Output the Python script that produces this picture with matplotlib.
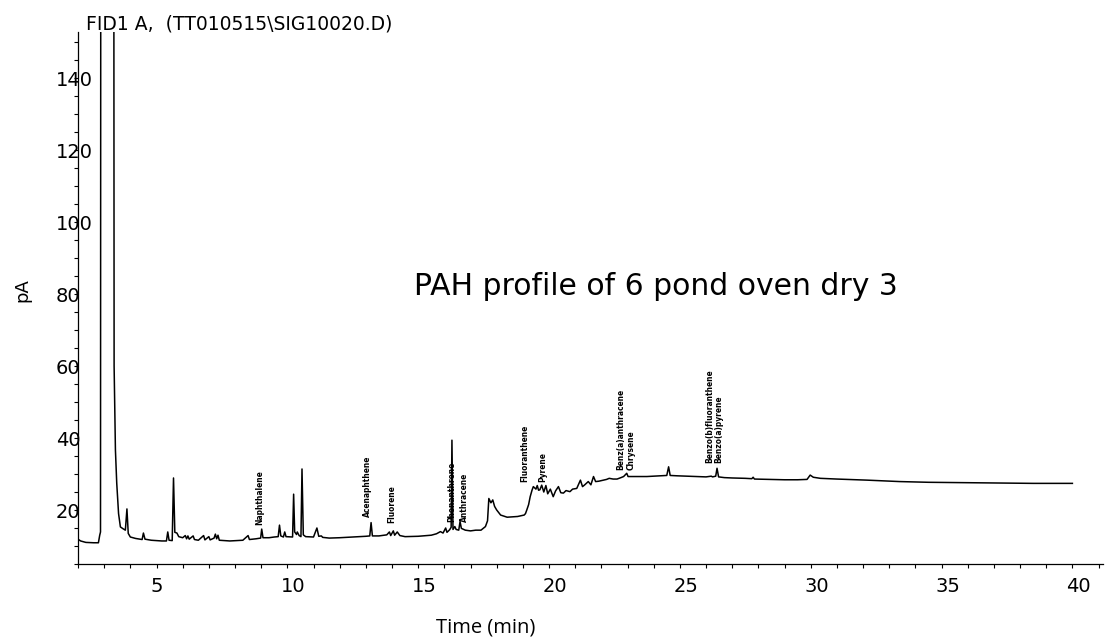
import matplotlib
matplotlib.use("Agg")
import matplotlib.pyplot as plt
from matplotlib.ticker import MultipleLocator, FixedLocator
from matplotlib.transforms import ScaledTranslation
from matplotlib import font_manager as fm

# ---------------- data ----------------
time_min = [2.00, 2.10, 2.30, 2.60, 2.78, 2.83, 2.86, 2.89, 3.34, 3.38, 3.43, 3.48,
            3.55, 3.62, 3.72, 3.81, 3.87, 3.92, 4.00, 4.20, 4.45, 4.50, 4.56, 4.80,
            5.00, 5.20, 5.38, 5.43, 5.48, 5.60, 5.65, 5.70, 5.78, 5.85, 6.00, 6.10,
            6.15, 6.20, 6.25, 6.40, 6.45, 6.60, 6.80, 6.85, 7.00, 7.05, 7.20, 7.25,
            7.30, 7.35, 7.40, 7.80, 8.30, 8.50, 8.55, 8.80, 8.98, 9.02, 9.07, 9.30,
            9.50, 9.65, 9.70, 9.75, 9.85, 9.90, 9.95, 10.20, 10.24, 10.28, 10.35, 10.38,
            10.45, 10.52, 10.56, 10.61, 10.70, 11.00, 11.13, 11.20, 11.30, 11.35, 11.60, 12.00,
            12.50, 13.00, 13.15, 13.20, 13.25, 13.50, 13.80, 13.90, 13.95, 14.05, 14.10, 14.20,
            14.30, 14.50, 15.00, 15.50, 15.70, 15.85, 15.95, 16.05, 16.10, 16.20, 16.26, 16.29,
            16.33, 16.40, 16.45, 16.55, 16.60, 16.65, 16.80, 17.00, 17.20, 17.40, 17.57, 17.65,
            17.70, 17.78, 17.85, 17.92, 18.00, 18.15, 18.40, 18.60, 18.80, 19.05, 19.10, 19.15,
            19.22, 19.28, 19.35, 19.40, 19.50, 19.55, 19.60, 19.65, 19.72, 19.80, 19.88, 19.95,
            20.05, 20.16, 20.25, 20.36, 20.45, 20.55, 20.65, 20.80, 20.90, 21.06, 21.20, 21.28,
            21.35, 21.50, 21.60, 21.70, 21.78, 21.90, 22.07, 22.20, 22.30, 22.45, 22.60, 22.75,
            22.85, 22.97, 23.02, 23.30, 23.74, 24.00, 24.30, 24.50, 24.57, 24.63, 24.90, 25.30,
            25.65, 26.00, 26.20, 26.25, 26.37, 26.42, 26.48, 26.70, 27.00, 27.50, 27.75, 27.80,
            27.85, 28.50, 29.00, 29.50, 29.86, 29.98, 30.10, 30.37, 31.00, 32.15, 33.40, 34.50,
            35.97, 37.00, 38.50, 40.00]
signal_pA = [11.9, 11.4, 11.0, 10.9, 10.9, 13.0, 13.9, 500.0, 500.0, 60.0, 36.7, 27.5,
             19.0, 15.3, 14.8, 14.4, 20.3, 13.5, 12.5, 12.1, 11.8, 13.6, 11.9, 11.6,
             11.5, 11.4, 11.4, 13.9, 11.6, 11.5, 28.9, 13.8, 13.6, 12.6, 12.3, 12.9,
             12.0, 12.8, 11.9, 12.8, 11.8, 11.6, 12.9, 11.7, 12.6, 11.7, 12.2, 13.3,
             12.0, 13.0, 11.6, 11.4, 11.6, 12.9, 11.8, 12.0, 12.2, 14.7, 12.3, 12.3,
             12.5, 12.6, 15.8, 12.8, 12.5, 13.9, 12.6, 12.5, 24.4, 13.9, 13.2, 13.9,
             12.9, 12.6, 31.4, 13.1, 12.6, 12.5, 15.0, 12.7, 12.8, 12.4, 12.2, 12.3,
             12.5, 12.7, 12.8, 16.5, 12.8, 12.8, 13.1, 13.9, 12.9, 14.2, 13.0, 13.9,
             12.9, 12.6, 12.7, 13.0, 13.4, 14.0, 13.6, 15.0, 13.8, 14.5, 15.2, 39.4,
             14.6, 15.4, 14.6, 14.4, 16.8, 14.9, 14.4, 14.2, 14.4, 14.4, 15.4, 17.0,
             23.2, 22.0, 22.8, 21.0, 20.0, 18.6, 18.0, 18.1, 18.2, 18.6, 19.0, 20.0,
             21.5, 23.7, 25.5, 26.5, 25.8, 26.8, 25.5, 25.6, 26.9, 25.0, 26.8, 24.5,
             25.8, 23.7, 25.3, 26.5, 24.8, 24.7, 25.4, 25.1, 25.8, 26.0, 28.3, 26.5,
             26.9, 27.9, 27.0, 29.3, 27.9, 28.0, 28.3, 28.5, 28.8, 28.6, 28.6, 29.0,
             29.3, 30.2, 29.3, 29.3, 29.3, 29.4, 29.5, 29.6, 32.0, 29.6, 29.5, 29.4,
             29.3, 29.2, 29.4, 29.2, 29.4, 31.6, 29.2, 29.0, 28.9, 28.8, 28.7, 29.1,
             28.6, 28.5, 28.4, 28.4, 28.5, 29.7, 29.1, 28.8, 28.6, 28.3, 27.9, 27.7,
             27.6, 27.5, 27.4, 27.4]

x_major_ticks = [5, 10, 15, 20, 25, 30, 35, 40]
y_major_ticks = [20, 40, 60, 80, 100, 120, 140]

peak_names = ["Naphthalene", "Acenaphthene", "Fluorene", "Phenanthrene", "Anthracene",
              "Fluoranthene", "Pyrene", "Benz(a)anthracene", "Chrysene",
              "Benzo(b)fluoranthene", "Benzo(a)pyrene"]
peak_label_time = [9.10, 13.22, 14.18, 16.45, 16.95, 19.25, 19.95, 22.90, 23.30, 26.30, 26.65]
peak_label_base = [15.8, 18.1, 16.4, 16.7, 16.7, 27.8, 27.8, 31.1, 31.1, 33.1, 33.1]

title_text = "FID1 A,  (TT010515\\SIG10020.D)"
annotation_text = "PAH profile of 6 pond oven dry 3"
x_label = "Time (min)"
y_label = "pA"

# ---------------- figure ----------------
W, H = 1105, 640
fig = plt.figure(figsize=(W / 100, H / 100), dpi=100)
ax = fig.add_axes([78 / W, 76 / H, 1025 / W, 532 / H])

ax.plot(time_min, signal_pA, color="black", lw=1.1)
ax.set_xlim(2, 41.17)
ax.set_ylim(5, 152.8)

for s in ("top", "right"):
    ax.spines[s].set_visible(False)
for s in ("left", "bottom"):
    ax.spines[s].set_linewidth(0.9)
    ax.spines[s].set_color("black")

ax.xaxis.set_major_locator(FixedLocator(x_major_ticks))
ax.yaxis.set_major_locator(FixedLocator(y_major_ticks))
ax.xaxis.set_minor_locator(MultipleLocator(1))
ax.yaxis.set_minor_locator(MultipleLocator(5))
ax.tick_params(which="both", direction="out", length=3, width=0.8, color="black")
ax.tick_params(axis="x", which="major", pad=6.5, labelsize=14)
ax.tick_params(axis="y", which="major", pad=13, labelsize=14)
ax.set_xticklabels([str(v) for v in x_major_ticks])
ax.set_yticklabels([str(v) for v in y_major_ticks])

off = ScaledTranslation(-6 / 100, 0, fig.dpi_scale_trans)
for lab in ax.get_xticklabels():
    lab.set_horizontalalignment("left")
    lab.set_transform(lab.get_transform() + off)
for lab in ax.get_yticklabels():
    lab.set_horizontalalignment("left")

# condensed (bold if available) font for the squeezed peak labels
cands = []
for f in fm.fontManager.ttflist:
    fn = f.fname.lower()
    if ("narrow" in fn or "condensed" in fn) and not any(k in fn for k in ("italic", "oblique")):
        cands.append(f.fname)
cands.sort(key=lambda p: (0 if "bold" in p.lower() else 1,
                          0 if "liberation" in p.lower() else 1, p))
if cands:
    label_fp = fm.FontProperties(fname=cands[0], size=6)
else:
    label_fp = fm.FontProperties(family="DejaVu Sans", weight="bold", size=5)

for name, t, b in zip(peak_names, peak_label_time, peak_label_base):
    ax.text(t, b, name, rotation=90, ha="right", va="bottom",
            fontproperties=label_fp, color="black")

ax.text(24.1, 82.2, annotation_text, ha="center", va="center", fontsize=21.5,
        family="DejaVu Sans", color="black")

fig.text(86 / W, 1 - 23.5 / H, title_text, ha="left", va="center", fontsize=13.5,
         family="DejaVu Sans")
fig.text(22 / W, 1 - 290 / H, y_label, rotation=90, ha="center", va="center",
         fontsize=13, family="DejaVu Sans")
fig.text(486 / W, 1 - 627 / H, x_label, ha="center", va="center", fontsize=14.5,
         family="Open Sans")

fig.savefig("out.png", dpi=100)
